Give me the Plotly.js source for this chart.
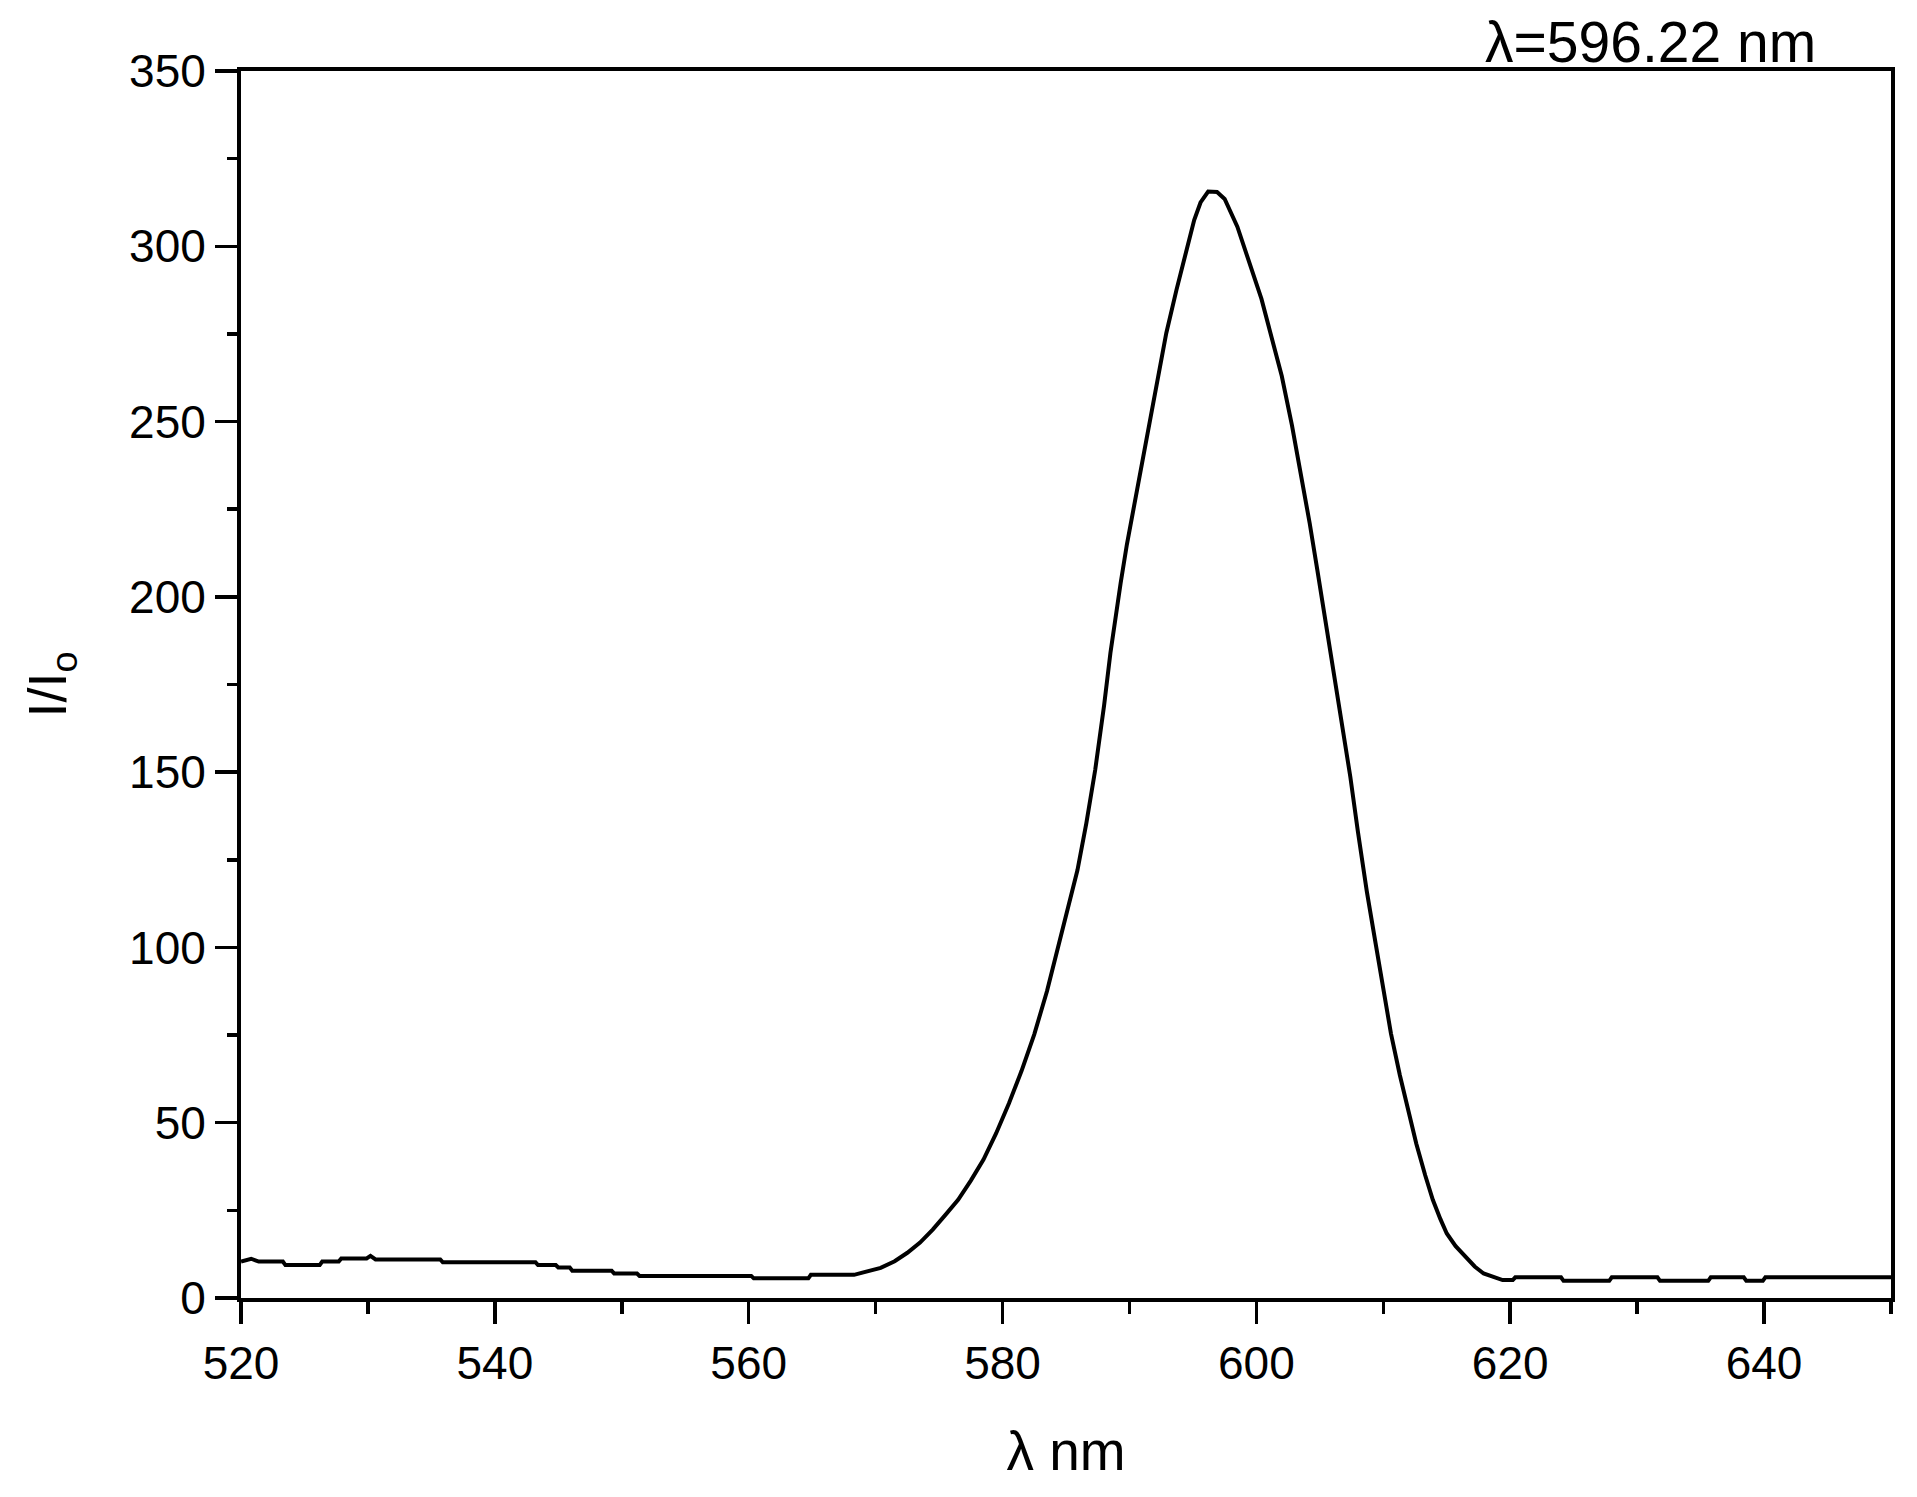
<!DOCTYPE html>
<html>
<head>
<meta charset="utf-8">
<script src="https://cdn.plot.ly/plotly-3.0.1.min.js"></script>
<style>
  html, body { margin: 0; padding: 0; background: #fff; }
  #chart { width: 1917px; height: 1497px; }
</style>
</head>
<body>
<div id="chart"></div>
<script>
// wavelength (nm)
const wavelength = [
  520, 520.8, 521.4, 523.3, 523.5, 526.2, 526.4, 527.7, 527.9, 529.9,
  530.2, 530.6, 535.7, 535.9, 543.2, 543.4, 544.8, 545.0, 545.9, 546.1,
  549.2, 549.4, 551.2, 551.4, 560.2, 560.4, 564.7, 564.9, 568.3, 569.3,
  570.4, 571.5, 572.5, 573.5, 574.5, 575.5, 576.5, 577.5, 578.5, 579.5,
  580.5, 581.5, 582.5, 583.5, 584.3, 585.1, 585.9, 586.6, 587.3, 588,
  588.5, 589.3, 589.8, 590.6, 591.4, 592.2, 592.9, 593.7, 594.5, 595.1,
  595.6, 596.2, 596.9, 597.5, 598.5, 599.5, 600.4, 601.2, 602, 602.8,
  603.5, 604.2, 604.8, 605.5, 606.1, 606.8, 607.4, 608, 608.7, 609.4,
  610, 610.6, 611.3, 612, 612.6, 613.3, 613.9, 614.5, 615, 615.7,
  616.5, 617.2, 617.9, 618.6, 619.4, 620.2, 620.4, 624, 624.2, 627.8,
  628, 631.6, 631.8, 635.6, 635.8, 638.4, 638.6, 639.9, 640.1, 650
];

// relative intensity I/Io
const intensity = [
  10.4, 11.2, 10.4, 10.4, 9.4, 9.4, 10.4, 10.4, 11.3, 11.3,
  12.0, 11.0, 11.0, 10.2, 10.2, 9.4, 9.4, 8.7, 8.7, 7.8,
  7.8, 7.0, 7.0, 6.3, 6.3, 5.6, 5.6, 6.6, 6.6, 7.5,
  8.6, 10.5, 12.9, 15.8, 19.5, 23.7, 28.0, 33.5, 39.5, 47,
  55.5, 64.8, 75.2, 87.5, 99, 110, 122, 135.4, 150.6, 169,
  184, 203.8, 215, 230.5, 245.7, 260.9, 275.2, 287.5, 298.9, 307.5,
  312.5, 315.6, 315.5, 313.5, 305.6, 295.1, 285, 274, 263, 249,
  235.5, 221, 207.7, 192, 178.2, 163, 148.7, 133, 116, 101,
  88.2, 75.5, 63.6, 52.5, 44, 35, 28, 22.5, 18.4, 14.8,
  11.8, 9.0, 7.0, 6.0, 5.1, 5.1, 5.9, 5.9, 4.9, 4.9,
  5.9, 5.9, 4.9, 4.9, 5.9, 5.9, 4.9, 4.9, 5.9, 5.9
];

const xTicks = [520, 540, 560, 580, 600, 620, 640];
const yTicks = [0, 50, 100, 150, 200, 250, 300, 350];
const peakLabel = "λ=596.22 nm";

const font = "Liberation Sans, Arial, sans-serif";

const trace = {
  x: wavelength,
  y: intensity,
  mode: "lines",
  line: { color: "#000", width: 4 },
  showlegend: false,
  hoverinfo: "x+y",
};

const layout = {
  width: 1917,
  height: 1497,
  margin: { l: 241, r: 26, t: 71, b: 199 },
  paper_bgcolor: "#fff",
  plot_bgcolor: "#fff",
  font: { family: font, color: "#000", size: 46 },
  xaxis: {
    range: [520, 650],
    tickvals: xTicks,
    ticktext: xTicks.map(String),
    ticks: "outside",
    ticklen: 22,
    tickwidth: 3.5,
    tickcolor: "#000",
    minor: { dtick: 10, tick0: 520, ticks: "outside", ticklen: 12, tickwidth: 3.5, tickcolor: "#000", showgrid: false },
    showline: true,
    linecolor: "#000",
    linewidth: 4,
    mirror: true,
    showgrid: false,
    zeroline: false,
    tickfont: { family: font, size: 46, color: "#000" },
    title: { text: "λ nm", font: { family: font, size: 55, color: "#000" }, standoff: 44 },
    automargin: false,
  },
  yaxis: {
    range: [0, 350],
    tickvals: yTicks,
    ticktext: yTicks.map(String),
    ticks: "outside",
    ticklen: 22,
    tickwidth: 3.5,
    tickcolor: "#000",
    minor: { dtick: 25, tick0: 0, ticks: "outside", ticklen: 10, tickwidth: 3.5, tickcolor: "#000", showgrid: false },
    showline: true,
    linecolor: "#000",
    linewidth: 4,
    mirror: true,
    showgrid: false,
    zeroline: false,
    tickfont: { family: font, size: 46, color: "#000" },
    title: { text: "I/I<sub>o</sub>", font: { family: font, size: 54, color: "#000" }, standoff: 46 },
    automargin: false,
  },
  annotations: [
    {
      text: peakLabel,
      xref: "paper",
      yref: "paper",
      x: 0.9558,
      y: 1.0236,
      xanchor: "right",
      yanchor: "middle",
      showarrow: false,
      font: { family: font, size: 57, color: "#000" },
    },
  ],
};

Plotly.newPlot("chart", [trace], layout, { staticPlot: true, displayModeBar: false });
</script>
</body>
</html>
